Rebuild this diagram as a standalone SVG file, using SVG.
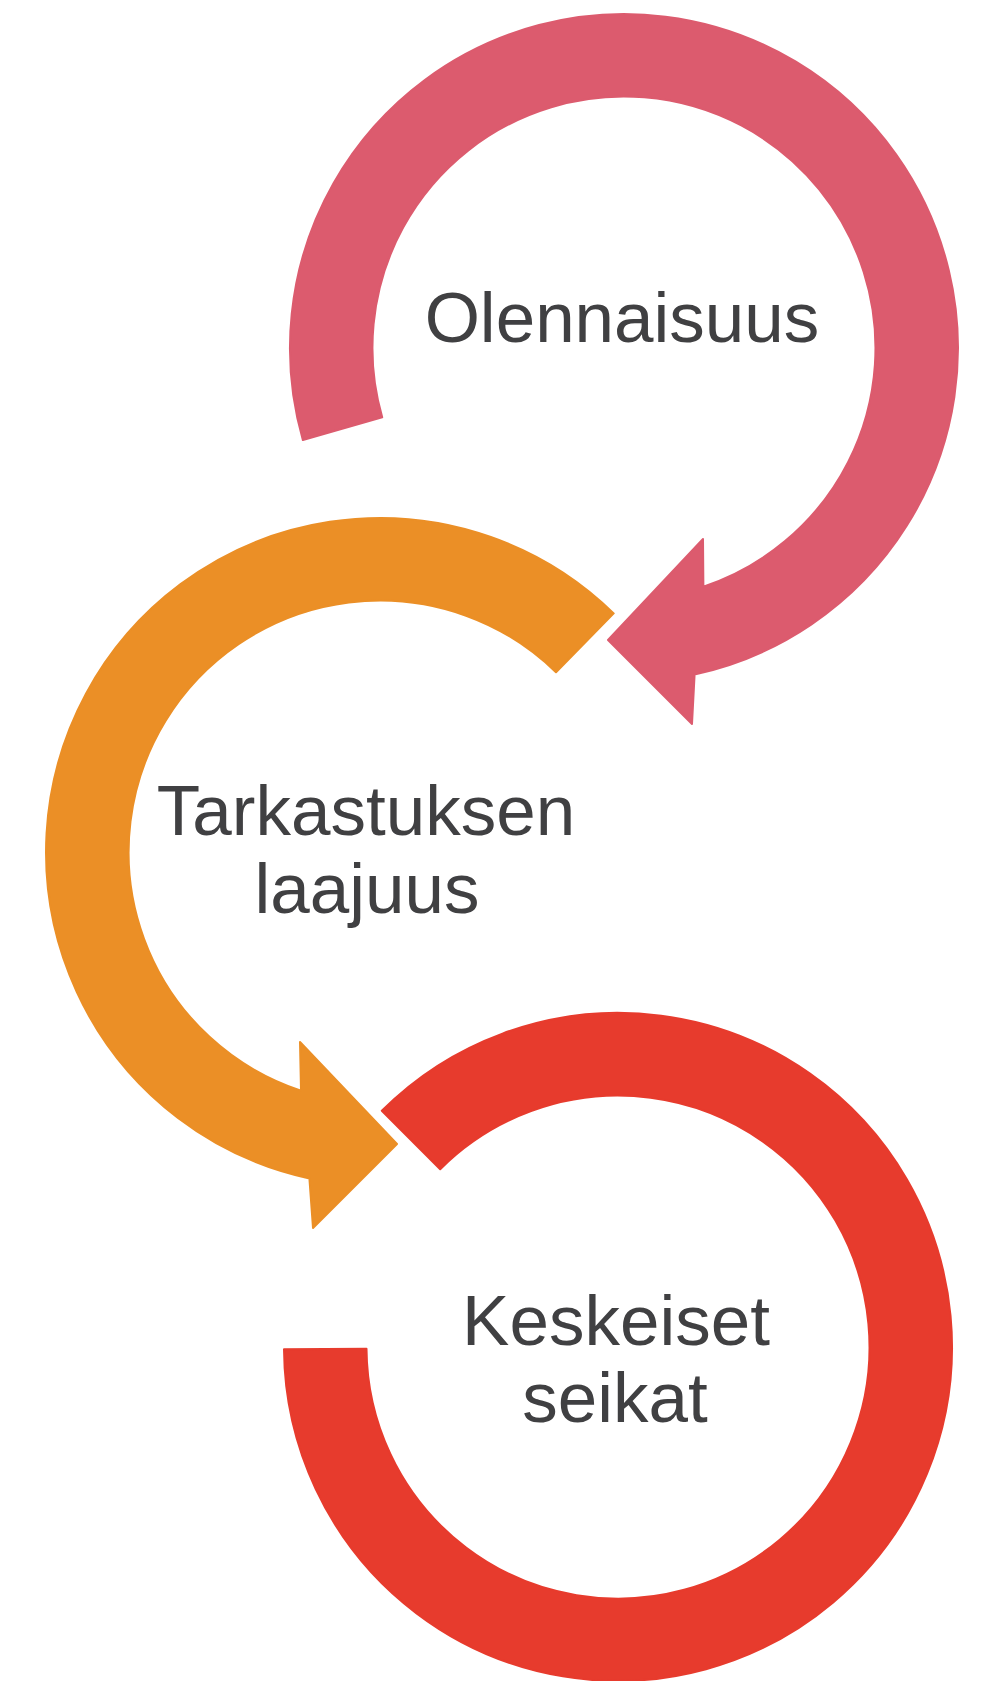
<svg xmlns="http://www.w3.org/2000/svg" width="989" height="1681" viewBox="0 0 989 1681">
<style>
.lbl{font-family:"Liberation Sans",Arial,sans-serif;fill:#404042;text-anchor:middle;font-size:71px}
.pink{fill:#DC5B6E;stroke:#DC5B6E}
.orange{fill:#EB8F26;stroke:#EB8F26}
.red{fill:#E73B2D;stroke:#E73B2D}
.ring{stroke-width:2;stroke-linejoin:round}
</style>
<rect width="989" height="1681" fill="#ffffff"/>
<g id="node-olennaisuus">
<path class="ring pink" d="M 302.9 440.1 A 334 334 0 1 1 694.6 674.5 L 692 724 L 608 640 L 703 539 L 703.4 586.6 A 251.5 251.5 0 1 0 382.2 417.3 Z"/>
<text class="lbl" x="622" y="342">Olennaisuus</text>
</g>
<g id="node-tarkastuksen-laajuus">
<path class="ring orange" d="M 613.7 613.4 A 334 334 0 1 0 309.4 1178.5 L 313 1228 L 397 1144 L 300 1042 L 301 1090.8 A 251.5 251.5 0 1 1 556 672.3 Z"/>
<text class="lbl" x="366" y="835">Tarkastuksen</text>
<text class="lbl" x="367" y="913">laajuus</text>
</g>
<g id="node-keskeiset-seikat">
<path class="ring red" d="M 381.8 1110.8 A 334 334 0 1 1 284 1349.3 L 366.5 1348.8 A 251.5 251.5 0 1 0 440.2 1169.2 Z"/>
<text class="lbl" x="616" y="1345">Keskeiset</text>
<text class="lbl" x="615" y="1422">seikat</text>
</g>
</svg>
